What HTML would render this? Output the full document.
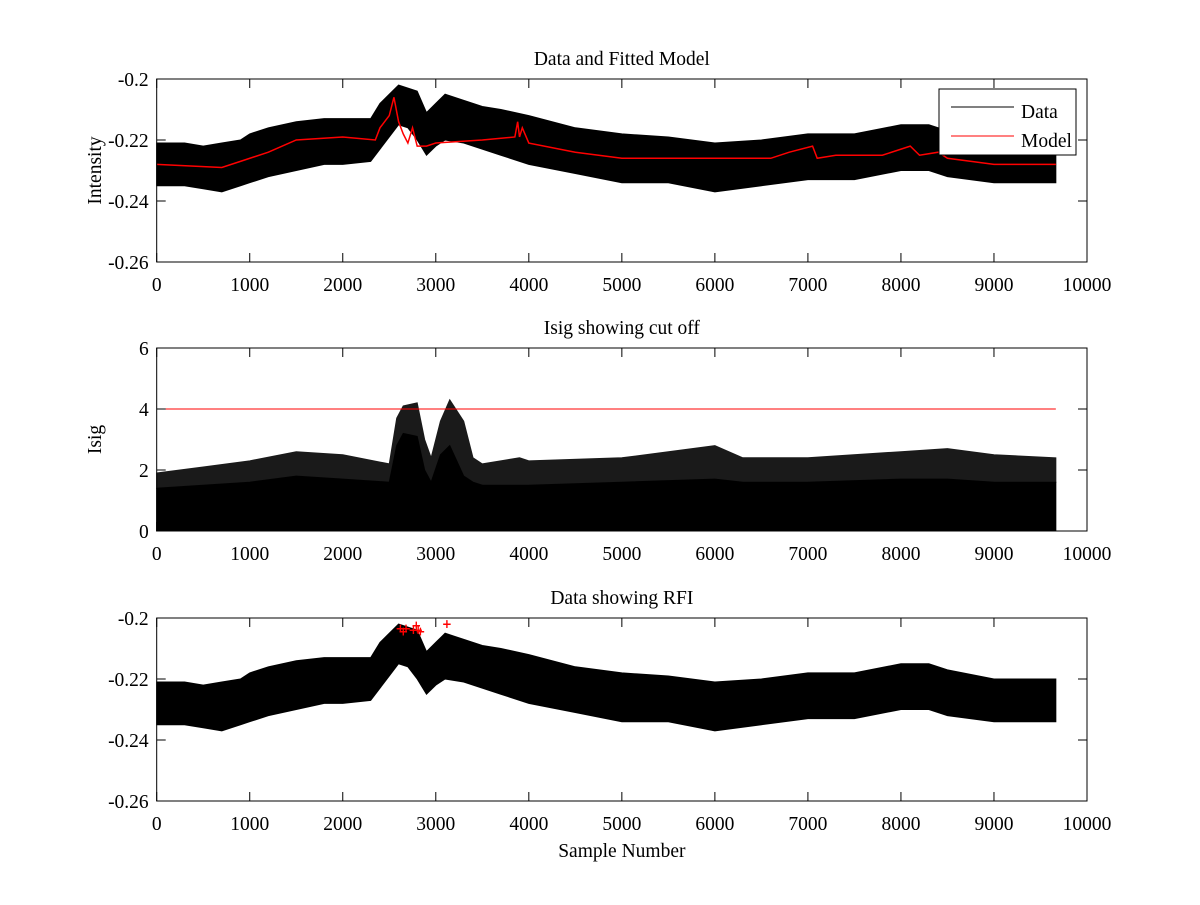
<!DOCTYPE html>
<html><head><meta charset="utf-8"><style>
body{margin:0;background:#fff;}
svg text{font-family:"Liberation Serif",serif;font-size:19.5px;fill:#000;}
</style></head><body>
<svg id="fig" width="1200" height="900" xmlns="http://www.w3.org/2000/svg"></svg>
<script>
// ---- data ----
const dSample=[0,300,500,700,900,1000,1200,1500,1800,2000,2300,2400,2500,2600,2700,2800,2900,3000,3100,3300,3500,3700,4000,4500,5000,5500,6000,6500,7000,7500,8000,8300,8500,9000,9665];
const dLow =[-0.235,-0.235,-0.236,-0.237,-0.235,-0.234,-0.232,-0.230,-0.228,-0.228,-0.227,-0.223,-0.219,-0.215,-0.216,-0.220,-0.225,-0.222,-0.220,-0.221,-0.223,-0.225,-0.228,-0.231,-0.234,-0.234,-0.237,-0.235,-0.233,-0.233,-0.230,-0.230,-0.232,-0.234,-0.234];
const dHigh=[-0.221,-0.221,-0.222,-0.221,-0.220,-0.218,-0.216,-0.214,-0.213,-0.213,-0.213,-0.208,-0.205,-0.202,-0.203,-0.204,-0.211,-0.208,-0.205,-0.207,-0.209,-0.210,-0.212,-0.216,-0.218,-0.219,-0.221,-0.220,-0.218,-0.218,-0.215,-0.215,-0.217,-0.220,-0.220];
const mSample=[0,700,900,1200,1500,2000,2350,2400,2450,2500,2550,2600,2650,2700,2750,2800,2900,3000,3500,3850,3880,3900,3930,4000,4500,5000,6000,6600,6800,7050,7100,7300,7800,8100,8200,8400,8500,9000,9665];
const mVal=[-0.228,-0.229,-0.227,-0.224,-0.220,-0.219,-0.220,-0.216,-0.214,-0.212,-0.206,-0.214,-0.218,-0.221,-0.216,-0.222,-0.222,-0.221,-0.220,-0.219,-0.214,-0.219,-0.216,-0.221,-0.224,-0.226,-0.226,-0.226,-0.224,-0.222,-0.226,-0.225,-0.225,-0.222,-0.225,-0.224,-0.226,-0.228,-0.228];
const iSample=[0,500,1000,1500,2000,2500,2580,2650,2800,2880,2950,3050,3150,3300,3400,3500,3900,4000,5000,6000,6300,7000,8000,8500,9000,9665];
const iCore=[1.4,1.5,1.6,1.8,1.7,1.6,2.8,3.2,3.1,2.0,1.6,2.5,2.8,1.8,1.6,1.5,1.5,1.5,1.6,1.7,1.6,1.6,1.7,1.7,1.6,1.6];
const iPeak=[1.9,2.1,2.3,2.6,2.5,2.2,3.7,4.1,4.2,3.0,2.4,3.6,4.3,3.6,2.4,2.2,2.4,2.3,2.4,2.8,2.4,2.4,2.6,2.7,2.5,2.4];
const cutoff=4;
const rfiSample=[2620,2650,2680,2760,2790,2810,2835,3120];
const rfiVal=[-0.2035,-0.2045,-0.2035,-0.204,-0.2025,-0.204,-0.2045,-0.202];
const xTicks=[0,1000,2000,3000,4000,5000,6000,7000,8000,9000,10000];
const yTicksI=[-0.2,-0.22,-0.24,-0.26];
const yTicksS=[0,2,4,6];

const NS="http://www.w3.org/2000/svg";
const svg=document.getElementById('fig');
function mk(t,a,p){const e=document.createElementNS(NS,t);for(const k in a)e.setAttribute(k,a[k]);(p||svg).appendChild(e);return e;}
const L=156.7,R=1087;
const xs=v=>L+(R-L)*v/10000;
function yscale(top,bot,min,max){return v=>bot-(v-min)/(max-min)*(bot-top);}

function axes(top,bot,yt,yfmt,ys,name,title,ylabel){
  const g=mk('g',{});
  
  
  const r=mk('rect',{x:L,y:top,width:R-L,height:bot-top,fill:'none',stroke:'#000','stroke-width':1},g);
  
  xTicks.forEach(v=>{const x=xs(v);
    mk('line',{x1:x,x2:x,y1:bot,y2:bot-9,stroke:'#000'},g);
    mk('line',{x1:x,x2:x,y1:top,y2:top+9,stroke:'#000'},g);
    const t=mk('text',{x:x,y:bot+29,'text-anchor':'middle'},g);t.textContent=v;
    });
  yt.forEach(v=>{const y=ys(v);
    mk('line',{x1:L,x2:L+9,y1:y,y2:y,stroke:'#000'},g);
    mk('line',{x1:R,x2:R-9,y1:y,y2:y,stroke:'#000'},g);
    const t=mk('text',{x:L-8,y:y+7,'text-anchor':'end'},g);t.textContent=yfmt(v);
    });
  const tt=mk('text',{x:(L+R)/2,y:top-14,'text-anchor':'middle'},g);tt.textContent=title;
  
  if(ylabel){const yl=mk('text',{x:0,y:0,'text-anchor':'middle',transform:`translate(101,${(top+bot)/2}) rotate(-90)`},g);yl.textContent=ylabel;
    }
  return g;
}
function band(xsArr,lo,hi,ys,fill,name){
  let d='M'+xsArr.map((s,i)=>xs(s)+','+ys(hi[i])).join('L');
  for(let i=xsArr.length-1;i>=0;i--)d+='L'+xs(xsArr[i])+','+ys(lo[i]);
  const p=mk('path',{d:d+'Z',fill:fill,stroke:fill,'stroke-width':1});
  
}
const fmtI=v=>String(v);

// Plot 1
const y1=yscale(79,262,-0.26,-0.2);
band(dSample,dLow,dHigh,y1,'#000','data-band');
const mp=mk('polyline',{points:mSample.map((s,i)=>xs(s)+','+y1(mVal[i])).join(' '),fill:'none',stroke:'#f00','stroke-width':1.5});

axes(79,262,yTicksI,fmtI,y1,'plot-intensity','Data and Fitted Model','Intensity');
// legend
const lg=mk('g',{});

mk('rect',{x:939,y:89,width:137,height:66,fill:'#fff',stroke:'#000'},lg);
mk('line',{x1:951,x2:1014,y1:107,y2:107,stroke:'#000'},lg);
mk('line',{x1:951,x2:1014,y1:136,y2:136,stroke:'#f00'},lg);
const l1=mk('text',{x:1021,y:118},lg);l1.textContent='Data';

const l2=mk('text',{x:1021,y:147},lg);l2.textContent='Model';


// Plot 2
const y2=yscale(348,531,0,6);
band(iSample,iCore,iPeak,y2,'#1a1a1a','isig-spikes');
band(iSample,iSample.map(()=>0),iCore,y2,'#000','isig-core');
const cl=mk('line',{x1:xs(0),x2:xs(9665),y1:y2(cutoff),y2:y2(cutoff),stroke:'#f00','stroke-width':1});

axes(348,531,yTicksS,v=>v,y2,'plot-isig','Isig showing cut off','Isig');

// Plot 3
const y3=yscale(618,801,-0.26,-0.2);
band(dSample,dLow,dHigh,y3,'#000','data-band-rfi');
rfiSample.forEach((s,i)=>{const c=mk('text',{x:xs(s),y:y3(rfiVal[i])+4,'text-anchor':'middle',style:'fill:#f00;font-size:12px;font-weight:bold;font-family:"DejaVu Sans",sans-serif'});c.textContent='+';
  });
axes(618,801,yTicksI,fmtI,y3,'plot-rfi','Data showing RFI',null);
const xl=mk('text',{x:(L+R)/2,y:857,'text-anchor':'middle'});xl.textContent='Sample Number';

</script>
</body></html>
